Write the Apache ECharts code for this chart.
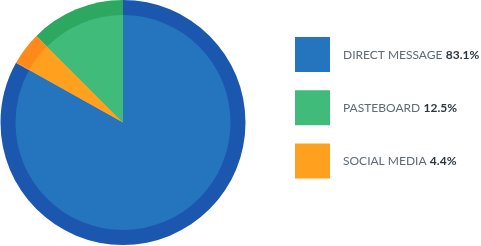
<!DOCTYPE html>
<html><head><meta charset="utf-8">
<script src="https://cdn.jsdelivr.net/npm/echarts@6/dist/echarts.min.js"></script>
<style>html,body{margin:0;padding:0;background:#fff}#c{width:481px;height:246px}</style>
</head><body><div id="c"></div>
<script>
const categories = ['DIRECT MESSAGE', 'SOCIAL MEDIA', 'PASTEBOARD'];
const values = [83.1, 4.4, 12.5];
const legendOrder = ['DIRECT MESSAGE', 'PASTEBOARD', 'SOCIAL MEDIA'];
const lightColors = {'DIRECT MESSAGE': '#2475BE', 'PASTEBOARD': '#41BB79', 'SOCIAL MEDIA': '#FFA11F'};
const darkColors = {'DIRECT MESSAGE': '#1B57AF', 'PASTEBOARD': '#2DA861', 'SOCIAL MEDIA': '#FF8A19'};

const mk = (cols) => categories.map((n, i) => ({name: n, value: values[i], itemStyle: {color: cols[n]}}));
const valOf = {};
categories.forEach((n, i) => valOf[n] = values[i]);

const chart = echarts.init(document.getElementById('c'), null, {renderer: 'canvas'});
chart.setOption({
  animation: false,
  legend: {
    orient: 'vertical', left: 295, top: 37, padding: 0,
    itemWidth: 35, itemHeight: 35, itemGap: 18.3,
    icon: 'rect', selectedMode: false,
    data: legendOrder.map(n => ({name: n, itemStyle: {color: lightColors[n]}})),
    formatter: n => '{a|' + n + '} {b|' + valOf[n].toFixed(1) + '%}',
    textStyle: {
      padding: [0, 0, 0, 8],
      rich: {
        a: {fontFamily: 'Lato', fontSize: 12, color: '#5F6B75', padding: [1, 0, 0, 0]},
        b: {fontFamily: 'Lato', fontSize: 12, fontWeight: 'bold', color: '#2E3740', padding: [1, 0, 0, 0]}
      }
    }
  },
  series: [
    {type: 'pie', center: [123, 122.5], radius: [0, 122.5], startAngle: 90, clockwise: true,
     label: {show: false}, labelLine: {show: false}, silent: true, emphasis: {disabled: true},
     data: mk(darkColors)},
    {type: 'pie', center: [123, 122.5], radius: [0, 107.5], startAngle: 90, clockwise: true,
     label: {show: false}, labelLine: {show: false}, silent: true, emphasis: {disabled: true},
     data: mk(lightColors)}
  ]
});
</script></body></html>
